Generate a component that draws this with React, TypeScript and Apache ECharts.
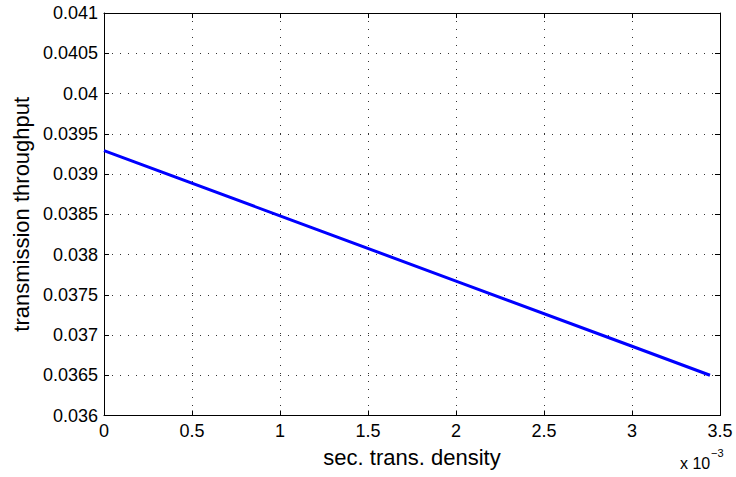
import React, { useEffect, useRef } from "react";
import * as echarts from "echarts";

// x values in units of 1e-3 (axis shows "x 10^-3")
const xValues = [0, 1, 2, 3, 3.443];
const throughput = [0.03929, 0.03848, 0.03767, 0.03686, 0.0365];
const xTicks = { min: 0, max: 3.5, interval: 0.5 };
const yTicks = { min: 0.036, max: 0.041, interval: 0.0005 };
const xName = "sec. trans. density";
const yName = "transmission throughput";

const fmt = (v: number) => String(parseFloat(v.toFixed(5)));
const FONT = "Liberation Sans, Arial, Helvetica, sans-serif";

export default function App() {
  const ref = useRef<HTMLDivElement>(null);
  useEffect(() => {
    if (!ref.current) return;
    const chart = echarts.init(ref.current, null, { renderer: "svg" });
    const grid = { left: 104, right: 16, top: 13, bottom: 61.5 };
    const dotted = { show: true, lineStyle: { color: "#333", type: [1, 7] as any, width: 1 } };
    const axisLine = { show: true, onZero: false, lineStyle: { color: "#000", width: 1 } };
    const tick = { show: true, inside: true, length: 5, lineStyle: { color: "#000" } };
    chart.setOption({
      animation: false,
      backgroundColor: "#fff",
      grid,
      xAxis: [
        {
          type: "value",
          min: xTicks.min,
          max: xTicks.max,
          interval: xTicks.interval,
          name: xName,
          nameLocation: "middle",
          nameGap: 31,
          nameTextStyle: { fontFamily: FONT, fontSize: 22, color: "#000" },
          axisLine,
          axisTick: tick,
          axisLabel: { formatter: fmt, fontFamily: FONT, fontSize: 18, color: "#000", margin: 6 },
          splitLine: dotted,
        },
        {
          type: "value",
          position: "top",
          min: xTicks.min,
          max: xTicks.max,
          interval: xTicks.interval,
          axisLine,
          axisTick: tick,
          axisLabel: { show: false },
          splitLine: { show: false },
        },
      ],
      yAxis: [
        {
          type: "value",
          min: yTicks.min,
          max: yTicks.max,
          interval: yTicks.interval,
          name: yName,
          nameLocation: "middle",
          nameGap: 69,
          nameTextStyle: { fontFamily: FONT, fontSize: 22, color: "#000" },
          axisLine,
          axisTick: tick,
          axisLabel: { formatter: fmt, fontFamily: FONT, fontSize: 18, color: "#000", margin: 6 },
          splitLine: dotted,
        },
        {
          type: "value",
          position: "right",
          min: yTicks.min,
          max: yTicks.max,
          interval: yTicks.interval,
          axisLine,
          axisTick: tick,
          axisLabel: { show: false },
          splitLine: { show: false },
        },
      ],
      graphic: [
        {
          type: "text",
          left: 680,
          top: 455,
          style: { text: "x 10", font: `16px ${FONT}`, fill: "#000" },
        },
        {
          type: "text",
          left: 711,
          top: 447,
          style: { text: "−3", font: `11px ${FONT}`, fill: "#000" },
        },
      ],
      series: [
        {
          type: "line",
          data: xValues.map((x, i) => [x, throughput[i]]),
          showSymbol: false,
          symbol: "none",
          lineStyle: { color: "#0000ff", width: 3 },
          xAxisIndex: 0,
          yAxisIndex: 0,
        },
      ],
    });
    return () => chart.dispose();
  }, []);
  return (
    <div
      ref={ref}
      style={{ position: "fixed", left: 0, top: 0, width: 736, height: 477 }}
    />
  );
}
